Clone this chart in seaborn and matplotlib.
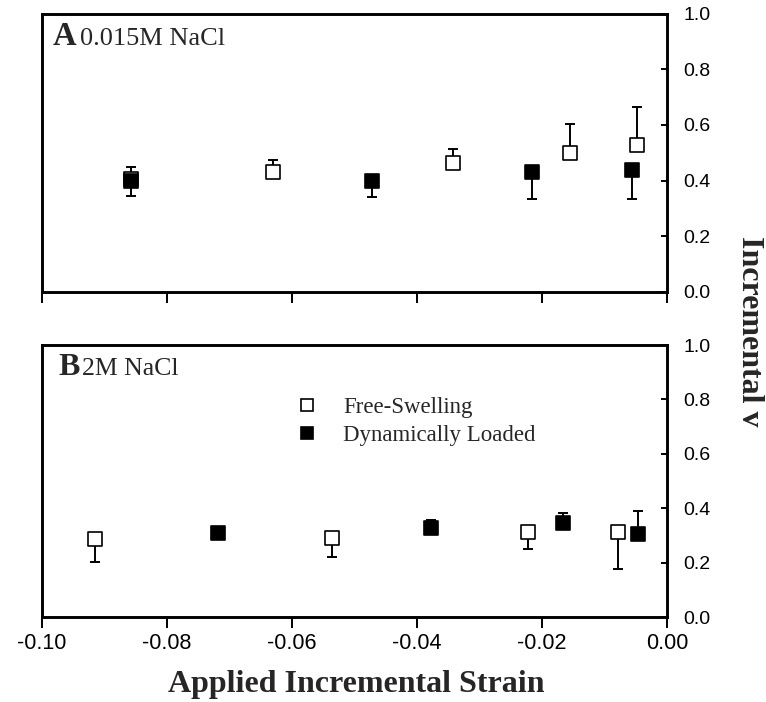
import numpy as np
import pandas as pd
import matplotlib
matplotlib.use("Agg")
import matplotlib.pyplot as plt
import seaborn as sns
from matplotlib.lines import Line2D
from matplotlib.font_manager import FontProperties

# ---------------- data ----------------
x_ticks = [-0.10, -0.08, -0.06, -0.04, -0.02, 0.00]
y_ticks = [0.0, 0.2, 0.4, 0.6, 0.8, 1.0]

a_free_x = [-0.0857, -0.0631, -0.0343, -0.0155, -0.0048]
a_free_y = [0.406, 0.432, 0.462, 0.498, 0.528]
a_free_err_up = [0.044, 0.042, 0.051, 0.105, 0.138]

a_load_x = [-0.0858, -0.0472, -0.0216, -0.0056]
a_load_y = [0.399, 0.399, 0.432, 0.438]
a_load_err_down = [0.056, 0.059, 0.099, 0.103]

b_free_x = [-0.0916, -0.0536, -0.0222, -0.0079]
b_free_y = [0.288, 0.292, 0.312, 0.311]
b_free_err_down = [0.087, 0.070, 0.062, 0.136]

b_load_x = [-0.0718, -0.0378, -0.0166, -0.0046]
b_load_y = [0.307, 0.327, 0.345, 0.306]
b_load_err_up = [0.0, 0.030, 0.039, 0.085]

legend_labels = ["Free-Swelling", "Dynamically Loaded"]

# ---------------- style ----------------
sns.set_style("ticks")
plt.rcParams["font.family"] = ["Liberation Sans", "DejaVu Sans"]
plt.rcParams["axes.unicode_minus"] = False

SERIF = "Liberation Serif"
W, H = 766, 702
fig = plt.figure(figsize=(W / 100, H / 100), dpi=100)
axA = fig.add_axes([42 / W, 1 - 292 / H, 625 / W, 278.5 / H])
axB = fig.add_axes([42 / W, 1 - 617 / H, 625 / W, 272 / H])

MS2 = 94  # marker area (pt^2)


def draw(ax, fx, fy, ferr, f_up, lx, ly, lerr, l_up):
    z_f = [0] * len(fx)
    z_l = [0] * len(lx)
    ferr_pair = [z_f, ferr] if f_up else [ferr, z_f]
    lerr_pair = [z_l, lerr] if l_up else [lerr, z_l]
    ax.errorbar(fx, fy, yerr=ferr_pair, fmt="none", ecolor="black",
                elinewidth=1.4, capsize=3.6, capthick=1.4, zorder=1)
    ax.errorbar(lx, ly, yerr=lerr_pair, fmt="none", ecolor="black",
                elinewidth=1.4, capsize=3.6, capthick=1.4, zorder=1)
    df_f = pd.DataFrame({"x": fx, "y": fy})
    df_l = pd.DataFrame({"x": lx, "y": ly})
    sns.scatterplot(data=df_f, x="x", y="y", marker="s", s=MS2, color="white",
                    edgecolor="black", linewidth=1.2, ax=ax, zorder=3, legend=False)
    sns.scatterplot(data=df_l, x="x", y="y", marker="s", s=MS2, color="black",
                    edgecolor="black", linewidth=1.2, ax=ax, zorder=4, legend=False)


draw(axA, a_free_x, a_free_y, a_free_err_up, True,
     a_load_x, a_load_y, a_load_err_down, False)
draw(axB, b_free_x, b_free_y, b_free_err_down, False,
     b_load_x, b_load_y, b_load_err_up, True)

for ax, show_x in ((axA, False), (axB, True)):
    ax.set_xlim(-0.10, 0.0)
    ax.set_ylim(0, 1.0)
    ax.set_xlabel("")
    ax.set_ylabel("")
    ax.yaxis.tick_right()
    ax.set_yticks(y_ticks)
    ax.set_yticklabels([f"{v:.1f}" for v in y_ticks])
    ax.set_xticks(x_ticks)
    ax.set_xticklabels([f"{v:.2f}" for v in x_ticks] if show_x else [])
    ax.tick_params(axis="y", direction="in", length=4.5, width=1.4,
                   labelsize=14, pad=12, colors="black")
    ax.tick_params(axis="x", direction="out", length=8, width=1.4,
                   labelsize=15.5, pad=3.6, colors="black")
    for sp in ax.spines.values():
        sp.set_visible(True)
        sp.set_linewidth(2.1)
        sp.set_color("black")
    ax.set_facecolor("white")

# panel labels
axA.text(0.0176, 0.8875, "A", transform=axA.transAxes, family=SERIF,
         fontweight="bold", fontsize=23.5, va="baseline", ha="left")
axA.text(0.061, 0.8875, "0.015M NaCl", transform=axA.transAxes, family=SERIF,
         fontsize=19, va="baseline", ha="left")
axB.text(0.0256, 0.890, "B", transform=axB.transAxes, family=SERIF,
         fontweight="bold", fontsize=23, va="baseline", ha="left")
axB.text(0.0640, 0.890, "2M NaCl", transform=axB.transAxes, family=SERIF,
         fontsize=18.5, va="baseline", ha="left")

# legend
handles = [
    Line2D([], [], marker="s", ls="none", mfc="white", mec="black", ms=8.6, mew=1.2),
    Line2D([], [], marker="s", ls="none", mfc="black", mec="black", ms=8.6, mew=1.2),
]
axB.legend(handles, legend_labels, loc="center left", bbox_to_anchor=(0.41, 0.719),
           frameon=False, prop=FontProperties(family=SERIF, size=16.5),
           handlelength=0.8, handletextpad=1.15, labelspacing=0.32,
           borderpad=0, borderaxespad=0)

# axis titles
fig.text(356.5 / W, 1 - 692 / H, "Applied Incremental Strain", family=SERIF,
         fontweight="bold", fontsize=23, ha="center", va="baseline")
fig.text(750 / W, 1 - 331 / H, "Incremental v", family=SERIF,
         fontweight="bold", fontsize=23, rotation=270, ha="center", va="center")

fig.savefig("out.png", dpi=100, facecolor="white")
